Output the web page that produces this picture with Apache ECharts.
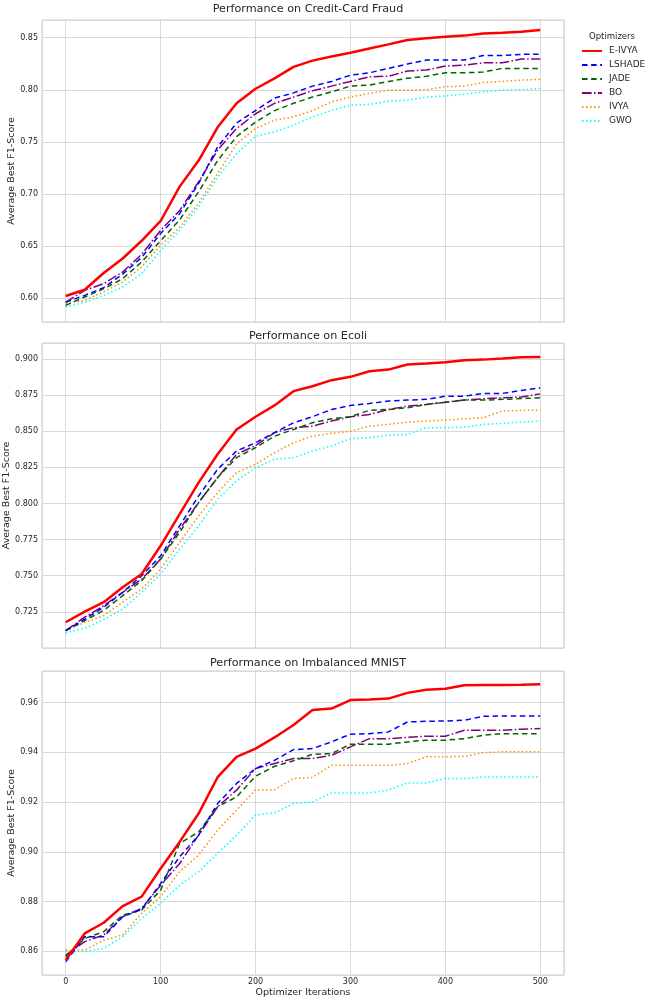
<!DOCTYPE html>
<html>
<head>
<meta charset="utf-8">
<script src="https://cdn.jsdelivr.net/npm/echarts@6/dist/echarts.min.js"></script>
<style>html,body{margin:0;padding:0;background:#fff}#c{width:649px;height:1002px}</style>
</head>
<body>
<div id="c"></div>
<script>
const iterations = [0,20,40,60,80,100,120,140,160,180,200,220,240,260,280,300,320,340,360,380,400,420,440,460,480,500];
const optimizers = ['E-IVYA','LSHADE','JADE','BO','IVYA','GWO'];
const panelTitles = ['Performance on Credit-Card Fraud','Performance on Ecoli','Performance on Imbalanced MNIST'];

// Credit-Card Fraud
const ccEIVYA  = [0.602,0.608,0.624,0.638,0.655,0.674,0.707,0.732,0.764,0.787,0.801,0.811,0.822,0.828,0.832,0.8356,0.8397,0.8436,0.8478,0.8494,0.851,0.852,0.854,0.8548,0.8558,0.8574];
const ccLSHADE = [0.596,0.6026,0.610,0.623,0.639,0.662,0.681,0.710,0.745,0.768,0.780,0.792,0.797,0.8035,0.808,0.814,0.8163,0.8205,0.8247,0.8285,0.8285,0.8285,0.833,0.833,0.834,0.834];
const ccJADE   = [0.593,0.601,0.609,0.6186,0.6346,0.655,0.675,0.702,0.732,0.755,0.769,0.780,0.787,0.793,0.798,0.8035,0.8045,0.808,0.811,0.813,0.8163,0.8163,0.817,0.8205,0.8205,0.8205];
const ccBO     = [0.596,0.6074,0.6138,0.625,0.642,0.665,0.684,0.7115,0.742,0.7628,0.777,0.787,0.793,0.799,0.8035,0.808,0.8125,0.813,0.818,0.819,0.8228,0.8237,0.826,0.826,0.8295,0.8295];
const ccIVYA   = [0.5946,0.5978,0.606,0.6154,0.630,0.6506,0.668,0.691,0.7196,0.748,0.7628,0.7708,0.774,0.780,0.7885,0.793,0.7965,0.7997,0.7997,0.800,0.803,0.8035,0.807,0.808,0.8093,0.810];
const ccGWO    = [0.5913,0.596,0.6026,0.6106,0.6234,0.6458,0.665,0.6875,0.716,0.7388,0.7554,0.7596,0.766,0.774,0.780,0.7853,0.786,0.789,0.790,0.793,0.794,0.7958,0.798,0.7997,0.800,0.8013];

// Ecoli
const ecEIVYA  = [0.7178,0.7252,0.7317,0.742,0.7512,0.7707,0.7926,0.8144,0.834,0.8512,0.860,0.8678,0.8777,0.8811,0.8853,0.8876,0.8915,0.8926,0.8961,0.8968,0.8977,0.8991,0.8995,0.9002,0.9011,0.9014];
const ecLSHADE = [0.712,0.720,0.7282,0.7385,0.750,0.7638,0.7845,0.8052,0.8236,0.8363,0.842,0.849,0.8558,0.860,0.865,0.8678,0.8692,0.8708,0.8715,0.872,0.8742,0.8742,0.8761,0.8761,0.8782,0.880];
const ecJADE   = [0.712,0.719,0.726,0.7362,0.7466,0.7615,0.780,0.8006,0.8179,0.8317,0.8386,0.8466,0.8512,0.8558,0.8586,0.860,0.8644,0.865,0.8662,0.8685,0.870,0.8715,0.8715,0.872,0.8726,0.8731];
const ecBO     = [0.712,0.7213,0.7293,0.7385,0.7477,0.7615,0.7822,0.8006,0.8179,0.834,0.840,0.849,0.8524,0.8535,0.857,0.860,0.8616,0.865,0.8673,0.8685,0.870,0.8715,0.8724,0.8731,0.8736,0.8758];
const ecIVYA   = [0.712,0.7178,0.7224,0.7317,0.7408,0.7546,0.773,0.7914,0.8075,0.8213,0.8271,0.8351,0.842,0.8466,0.8485,0.850,0.8535,0.8547,0.8563,0.857,0.8577,0.8586,0.8593,0.8639,0.8644,0.8644];
const ecGWO    = [0.7105,0.7137,0.7197,0.727,0.7385,0.7512,0.7684,0.7845,0.8029,0.8156,0.8248,0.8305,0.8317,0.8363,0.8397,0.8448,0.8455,0.8471,0.8478,0.8524,0.8524,0.8528,0.8547,0.8554,0.8563,0.857];

// Imbalanced MNIST
const mnEIVYA  = [0.8565,0.8672,0.8715,0.8782,0.882,0.8933,0.904,0.9154,0.930,0.9382,0.9415,0.946,0.951,0.957,0.9576,0.961,0.9612,0.9616,0.9639,0.9652,0.9656,0.967,0.9671,0.9671,0.9672,0.9674];
const mnLSHADE = [0.8558,0.8659,0.8659,0.8739,0.8769,0.8873,0.898,0.9067,0.9194,0.9275,0.9335,0.9368,0.9411,0.9415,0.9442,0.9473,0.9475,0.9482,0.9522,0.9525,0.9526,0.9529,0.9545,0.9546,0.9546,0.9546];
const mnJADE   = [0.8579,0.8652,0.8679,0.8746,0.8766,0.8846,0.9034,0.908,0.9181,0.9221,0.9304,0.9344,0.9366,0.9392,0.9395,0.9433,0.9433,0.9433,0.9442,0.9449,0.9449,0.9455,0.9469,0.9475,0.9475,0.9475];
const mnBO     = [0.8585,0.8639,0.8666,0.8739,0.8773,0.8866,0.8953,0.9067,0.9181,0.9248,0.9335,0.9355,0.9375,0.9375,0.9388,0.9422,0.9455,0.9455,0.946,0.9465,0.9465,0.9489,0.9489,0.9489,0.9493,0.9496];
const mnIVYA   = [0.8605,0.8605,0.8645,0.8666,0.8753,0.882,0.892,0.8987,0.9087,0.9168,0.925,0.925,0.9295,0.9299,0.9348,0.9348,0.9348,0.9348,0.9355,0.9382,0.9382,0.9384,0.9399,0.9402,0.9402,0.9402];
const mnGWO    = [0.8599,0.8599,0.8612,0.8659,0.8732,0.8793,0.8866,0.892,0.8994,0.9067,0.9148,0.9157,0.9194,0.9201,0.9237,0.9237,0.9237,0.9248,0.9277,0.9277,0.9295,0.9295,0.9301,0.9301,0.9301,0.9301];

const panelData = [
  [ccEIVYA, ccLSHADE, ccJADE, ccBO, ccIVYA, ccGWO],
  [ecEIVYA, ecLSHADE, ecJADE, ecBO, ecIVYA, ecGWO],
  [mnEIVYA, mnLSHADE, mnJADE, mnBO, mnIVYA, mnGWO]
];

const styles = [
  {color:'#ff0000', width:2.5, type:'solid'},
  {color:'#0000ff', width:1.5, type:[5.5,3.6]},
  {color:'#006400', width:1.5, type:[5.5,3.6]},
  {color:'#800080', width:1.5, type:[9.6,2.4,1.5,2.4]},
  {color:'#ff8c00', width:1.5, type:[1.5,2.5]},
  {color:'#00ffff', width:1.5, type:[1.5,2.5]}
];

const grids = [
  {left:42, top:20, width:522, height:302},
  {left:42, top:343, width:522, height:305},
  {left:42, top:671, width:522, height:304}
];
const yRanges = [
  {min:0.577, max:0.867, dec:2, gap:25},
  {min:0.700, max:0.911, dec:3, gap:30, interval:0.025},
  {min:0.8505, max:0.9727, dec:2, gap:25}
];
const titleTops = [-1, 326, 653];
const font = 'DejaVu Sans';
const textColor = '#262626';

const option = {
  backgroundColor:'#ffffff',
  animation:false,
  textStyle:{fontFamily:font},
  title: panelTitles.map((t,i)=>({
    text:t, left:303, textAlign:'center', top:titleTops[i],
    textStyle:{fontFamily:font, fontSize:11.2, fontWeight:'normal', color:textColor}
  })).concat([{
    text:'Optimizers', left:607, textAlign:'center', top:27,
    textStyle:{fontFamily:font, fontSize:8.5, fontWeight:'normal', color:textColor}
  }]),
  legend:{
    data:optimizers, orient:'vertical', left:576, top:41,
    itemWidth:20, itemHeight:10, itemGap:4,
    itemStyle:{opacity:0, borderWidth:0},
    textStyle:{fontFamily:font, fontSize:9, color:textColor, padding:[0,0,0,2], height:10, lineHeight:10}
  },
  grid: grids.map(g=>Object.assign({show:true, borderColor:'#cccccc', borderWidth:1, backgroundColor:'#ffffff', outerBoundsMode:'none', containLabel:false}, g)),
  xAxis: grids.map((g,i)=>({
    type:'value', gridIndex:i, min:-25, max:525,
    axisLine:{show:false}, axisTick:{show:false},
    axisLabel:{show:i===2, showMinLabel:false, showMaxLabel:false, margin:3, fontFamily:font, fontSize:8, color:textColor},
    splitLine:{show:true, lineStyle:{color:'#d9d9d9', width:1}},
    name: i===2 ? 'Optimizer Iterations' : '',
    nameLocation:'middle', nameGap:13, nameMoveOverlap:false,
    nameTextStyle:{fontFamily:font, fontSize:9.5, color:textColor}
  })),
  yAxis: yRanges.map((r,i)=>{
    const a = {
      type:'value', gridIndex:i, min:r.min, max:r.max,
      axisLine:{show:false}, axisTick:{show:false},
      axisLabel:{showMinLabel:false, showMaxLabel:false, margin:4, fontFamily:font, fontSize:8, color:textColor,
        formatter:v=>v.toFixed(r.dec)},
      splitLine:{show:true, lineStyle:{color:'#d9d9d9', width:1}},
      name:'Average Best F1-Score', nameLocation:'middle', nameGap:r.gap, nameRotate:90, nameMoveOverlap:false,
      nameTextStyle:{fontFamily:font, fontSize:9.5, color:textColor}
    };
    if (r.interval) a.interval = r.interval;
    return a;
  }),
  series: []
};

panelData.forEach((arr,p)=>{
  arr.forEach((vals,k)=>{
    option.series.push({
      name:optimizers[k], type:'line', xAxisIndex:p, yAxisIndex:p,
      data:iterations.map((x,j)=>[x, vals[j]]),
      showSymbol:false, symbol:'none',
      lineStyle:{color:styles[k].color, width:styles[k].width, type:styles[k].type},
      itemStyle:{color:styles[k].color},
      z: 10-k
    });
  });
});

const chart = echarts.init(document.getElementById('c'), null, {renderer:'canvas'});
chart.setOption(option);
</script>
</body>
</html>
